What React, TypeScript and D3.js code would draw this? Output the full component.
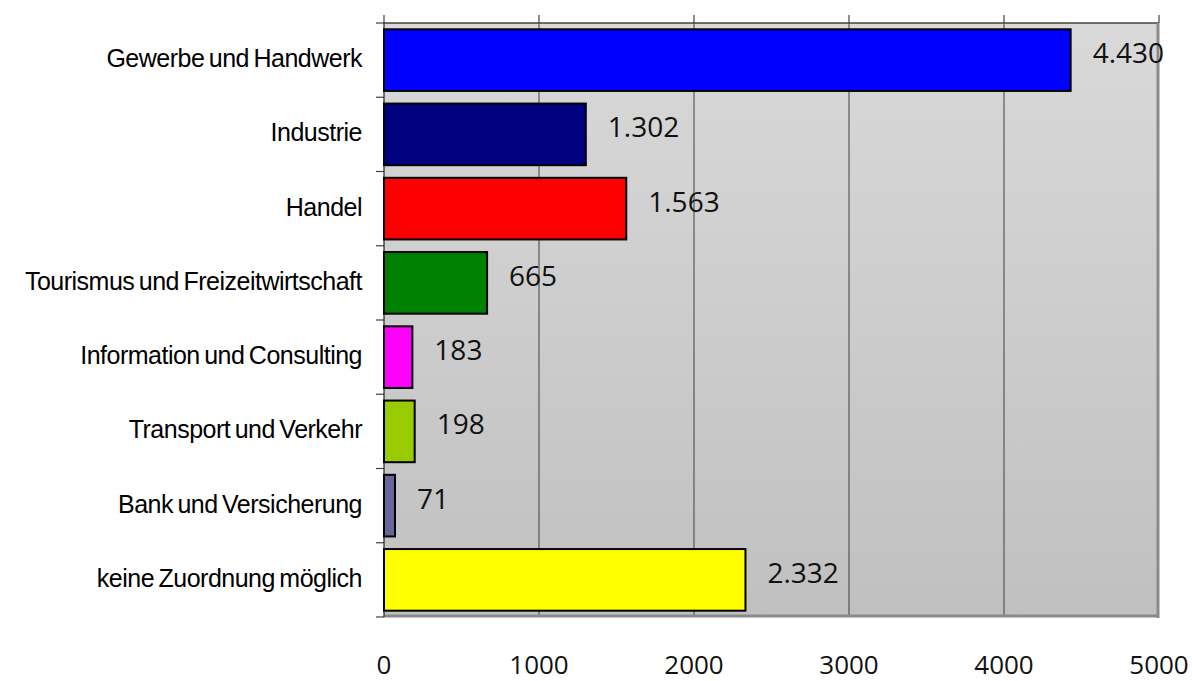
import React from "react";
import * as d3 from "d3";

const categories = [
  "Gewerbe und Handwerk",
  "Industrie",
  "Handel",
  "Tourismus und Freizeitwirtschaft",
  "Information und Consulting",
  "Transport und Verkehr",
  "Bank und Versicherung",
  "keine Zuordnung möglich",
];
const values = [4430, 1302, 1563, 665, 183, 198, 71, 2332];
const valueLabels = ["4.430", "1.302", "1.563", "665", "183", "198", "71", "2.332"];
const colors = ["#0000FF", "#000080", "#FF0000", "#008000", "#FF00FF", "#99CC00", "#666699", "#FFFF00"];
const xTicks = [0, 1000, 2000, 3000, 4000, 5000];

const W = 1192;
const H = 681;
const left = 384;
const right = 1159;
const top = 23;
const bottom = 617;

export default function App() {
  const x = d3.scaleLinear().domain([0, 5000]).range([left, right]);
  const y = d3.scaleBand<string>().domain(categories).range([top, bottom]).paddingInner(0.17).paddingOuter(0.085);
  const band = (bottom - top) / categories.length;
  return (
    <svg width={W} height={H} style={{ position: "absolute", left: 0, top: 0 }}>
      <defs>
        <linearGradient id="bg" x1="0" y1="0" x2="0" y2="1">
          <stop offset="0" stopColor="#d9d9d9" />
          <stop offset="1" stopColor="#c0c0c0" />
        </linearGradient>
      </defs>
      <rect x={left} y={top} width={right - left} height={bottom - top} fill="url(#bg)" />
      {xTicks.slice(1, -1).map((t) => (
        <line key={"g" + t} x1={x(t)} x2={x(t)} y1={top} y2={bottom} stroke="#404040" strokeWidth={1} />
      ))}
      {/* frame */}
      <line x1={left} x2={right} y1={top} y2={top} stroke="#404040" strokeWidth={1.5} />
      <line x1={right - 1} x2={right - 1} y1={top} y2={bottom + 1} stroke="#8a8a8a" strokeWidth={3} />
      <line x1={left} x2={right} y1={bottom - 1} y2={bottom - 1} stroke="#8a8a8a" strokeWidth={3} />
      {/* top ticks */}
      {xTicks.map((t) => (
        <line key={"t" + t} x1={x(t)} x2={x(t)} y1={top - 8} y2={top} stroke="#404040" strokeWidth={1.2} />
      ))}
      {/* left ticks */}
      {d3.range(categories.length + 1).map((i) => (
        <line key={"l" + i} x1={left - 8} x2={left} y1={top + i * band} y2={top + i * band} stroke="#404040" strokeWidth={1.2} />
      ))}
      <line x1={left} x2={left} y1={top} y2={bottom} stroke="#202020" strokeWidth={1.2} />
      {categories.map((c, i) => (
        <rect
          key={c}
          x={x(0)}
          y={y(c)}
          width={x(values[i]) - x(0)}
          height={y.bandwidth()}
          fill={colors[i]}
          stroke="#000"
          strokeWidth={2}
        />
      ))}
      {categories.map((c, i) => (
        <text
          key={"v" + c}
          x={x(values[i]) + 22}
          y={(y(c) as number) + y.bandwidth() / 2 + 3}
          fontFamily="'Open Sans', sans-serif"
          fontSize={28}
          fill="#111"
        >
          {valueLabels[i]}
        </text>
      ))}
      {categories.map((c, i) => (
        <text
          key={"c" + c}
          x={left - 22}
          y={(y(c) as number) + y.bandwidth() / 2 + 7}
          textAnchor="end"
          fontFamily="'Liberation Sans', Arial, sans-serif"
          fontSize={25}
          letterSpacing={-0.5}
          wordSpacing={-2}
          fill="#000"
        >
          {c}
        </text>
      ))}
      {xTicks.map((t) => (
        <text
          key={"x" + t}
          x={x(t)}
          y={674}
          textAnchor="middle"
          fontFamily="'Open Sans', sans-serif"
          fontSize={26}
          fill="#111"
        >
          {t}
        </text>
      ))}
    </svg>
  );
}
